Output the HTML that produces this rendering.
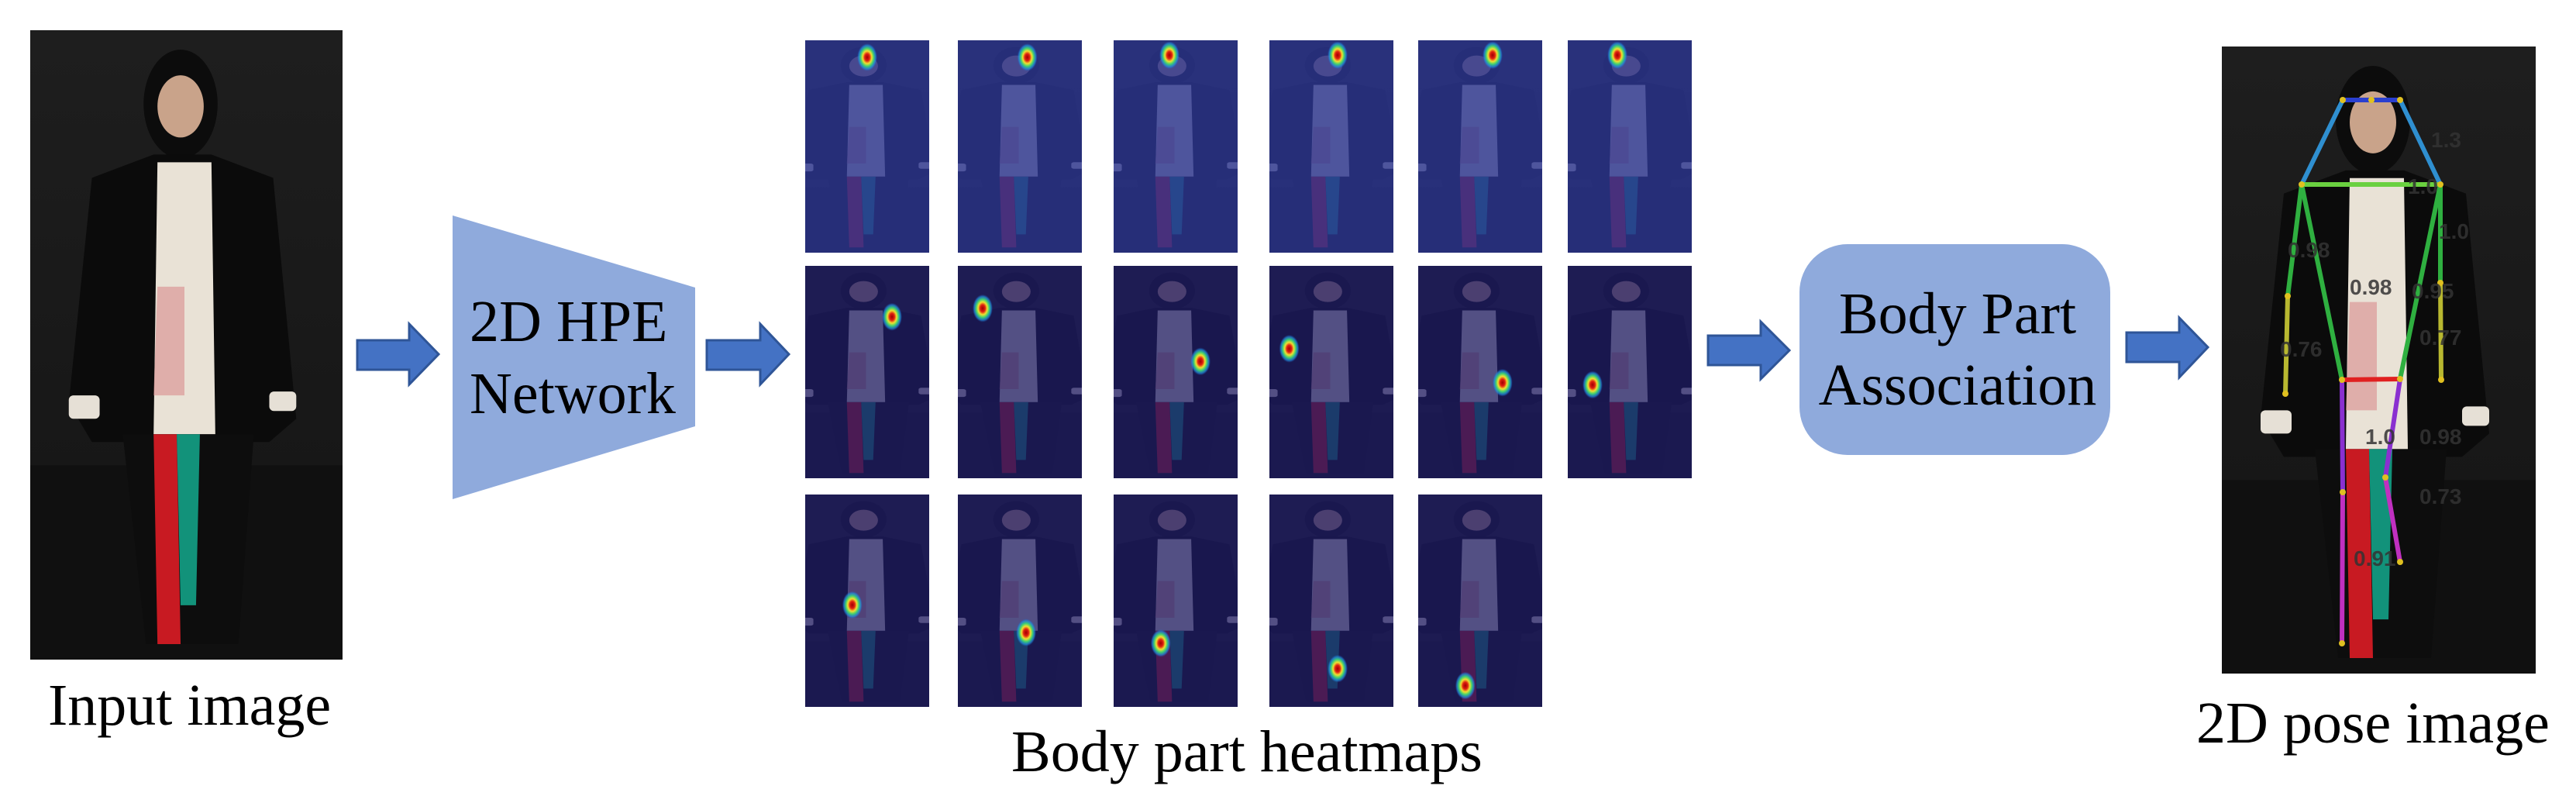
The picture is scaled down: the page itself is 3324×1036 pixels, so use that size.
<!DOCTYPE html>
<html><head><meta charset="utf-8"><style>
html,body{margin:0;padding:0;background:#fff;}
svg{display:block;}
.serif{font-family:"Liberation Serif","Times New Roman",serif;fill:#000;}
</style></head><body>
<svg id="root" width="3324" height="1036" viewBox="0 0 3324 1036" xmlns="http://www.w3.org/2000/svg">
<defs>
  <linearGradient id="bg" x1="0" y1="0" x2="0" y2="1"><stop offset="0" stop-color="#1e1e1e"/><stop offset="1" stop-color="#141414"/></linearGradient>
  <radialGradient id="blob"><stop offset="0" stop-color="#a00000"/><stop offset="0.25" stop-color="#e02010"/><stop offset="0.45" stop-color="#f0e030"/><stop offset="0.65" stop-color="#40d070"/><stop offset="0.85" stop-color="#2090e0" stop-opacity="0.7"/><stop offset="1" stop-color="#2060c0" stop-opacity="0"/></radialGradient>
  <symbol id="person" viewBox="0 0 405 810" preserveAspectRatio="none">
    <rect width="405" height="810" fill="url(#bg)"/>
    <rect x="0" y="560" width="405" height="250" fill="#101010"/>
    <ellipse cx="195" cy="95" rx="48" ry="70" fill="#0c0c0c"/>
    <ellipse cx="195" cy="98" rx="30" ry="40" fill="#c9a38a"/>
    <path d="M80 190 L160 160 L235 160 L315 190 L345 500 L310 530 L80 530 L50 480 Z" fill="#0b0b0b"/>
    <path d="M165 170 L235 170 L240 520 L160 520 Z" fill="#e9e2d6"/>
    <path d="M165 330 L200 330 L200 470 L160 470 Z" fill="#d98c8c" opacity="0.6"/>
    <rect x="50" y="470" width="40" height="30" rx="6" fill="#e6e0d6"/>
    <rect x="310" y="465" width="35" height="25" rx="6" fill="#e6e0d6"/>
    <path d="M120 520 L290 520 L270 790 L150 790 Z" fill="#0d0d0d"/>
    <path d="M160 520 L190 520 L195 790 L165 790 Z" fill="#c81a22"/>
    <path d="M190 520 L220 520 L215 740 L195 740 Z" fill="#12927a"/>
  </symbol>
</defs>

<use href="#person" x="39" y="39" width="403" height="812"/>
<text class="serif" font-family="Liberation Serif, Times New Roman, serif" x="62" y="935" font-size="76">Input image</text>

<path d="M461 439 L528 439 L528 418 L566 457 L528 496 L528 477 L461 477 Z" fill="#4472c4" stroke="#2f5597" stroke-width="3"/>

<path d="M584 278 L897 371 L897 550 L584 644 Z" fill="#8faadc"/>
<text class="serif" font-family="Liberation Serif, Times New Roman, serif" x="606" y="440" font-size="76">2D HPE</text>
<text class="serif" font-family="Liberation Serif, Times New Roman, serif" x="606" y="533" font-size="76">Network</text>

<path d="M912 439 L981 439 L981 418 L1018 457 L981 496 L981 477 L912 477 Z" fill="#4472c4" stroke="#2f5597" stroke-width="3"/>

<g id="heatmaps"></g>
<text class="serif" font-family="Liberation Serif, Times New Roman, serif" x="1305" y="995" font-size="76">Body part heatmaps</text>

<path d="M2204 433 L2272 433 L2272 415 L2309 452 L2272 489 L2272 471 L2204 471 Z" fill="#4472c4" stroke="#2f5597" stroke-width="3"/>

<rect x="2322" y="315" width="401" height="272" rx="62" fill="#8faadc"/>
<text class="serif" font-family="Liberation Serif, Times New Roman, serif" x="2526" y="430" font-size="76" text-anchor="middle">Body Part</text>
<text class="serif" font-family="Liberation Serif, Times New Roman, serif" x="2526" y="522" font-size="76" text-anchor="middle">Association</text>

<path d="M2744 429 L2812 429 L2812 410 L2849 448 L2812 487 L2812 467 L2744 467 Z" fill="#4472c4" stroke="#2f5597" stroke-width="3"/>

<g transform="translate(2867,60)">
  <use href="#person" x="0" y="0" width="405" height="809"/>
  <g id="skeleton"></g>
</g>
<text class="serif" font-family="Liberation Serif, Times New Roman, serif" x="2834" y="958" font-size="76">2D pose image</text>
</svg>
<script>
const heatCols = [1039, 1236, 1437, 1638, 1830, 2023];
const heatRows = [52, 343, 638];
const rowCounts = [6, 6, 5];
const blobX = [[0.5,0.56,0.45,0.55,0.6,0.4],[0.7,0.2,0.7,0.16,0.68,0.2],[0.38,0.55,0.38,0.55,0.38]];
const blobY = [[0.08,0.08,0.07,0.07,0.07,0.07],[0.24,0.2,0.45,0.39,0.55,0.56],[0.52,0.65,0.7,0.82,0.9]];
const NS = "http://www.w3.org/2000/svg";
const hg = document.getElementById('heatmaps');
const TW = 160, TH = 274;
let idx = 0;
for (let r = 0; r < heatRows.length; r++) {
  for (let c = 0; c < rowCounts[r]; c++) {
    const g = document.createElementNS(NS, 'g');
    g.setAttribute('transform', `translate(${heatCols[c]},${heatRows[r]})`);
    
    
    const cp = document.createElementNS(NS, 'clipPath');
    cp.setAttribute('id', 'tc' + idx);
    const rr = document.createElementNS(NS, 'rect');
    rr.setAttribute('width', TW); rr.setAttribute('height', TH);
    cp.appendChild(rr);
    g.appendChild(cp);
    const inner = document.createElementNS(NS, 'g');
    inner.setAttribute('clip-path', `url(#tc${idx})`);
    const u = document.createElementNS(NS, 'use');
    u.setAttribute('href', '#person');
    u.setAttribute('x', -45); u.setAttribute('y', 0);
    u.setAttribute('width', TW + 90); u.setAttribute('height', TH);
    inner.appendChild(u);
    const cl = document.createElementNS(NS, 'rect');
    cl.setAttribute('width', TW); cl.setAttribute('height', TH);
    cl.setAttribute('fill', r === 0 ? '#2c3690' : '#1f1c66');
    cl.setAttribute('opacity', r === 0 ? '0.82' : '0.74');
    inner.appendChild(cl);
    const b = document.createElementNS(NS, 'ellipse');
    b.setAttribute('cx', blobX[r][c] * TW); b.setAttribute('cy', blobY[r][c] * TH);
    b.setAttribute('rx', 13); b.setAttribute('ry', 18);
    b.setAttribute('fill', 'url(#blob)');
    
    
    inner.appendChild(b);
    g.appendChild(inner);
    hg.appendChild(g);
    idx++;
  }
}

const jointNames = ['nose','leye','reye','lsho','rsho','lelb','relb','lwri','rwri','lhip','rhip','lknee','rknee','lank','rank'];
const jointX = [193,156,230,103,282,85,282,82,283,155,230,156,211,155,230];
const jointY = [69,69,69,178,178,322,305,448,430,430,429,575,556,770,665];
const bones = [[1,0,'#2a3fd0'],[2,0,'#2a3fd0'],[1,3,'#2f8fd0'],[2,4,'#2f8fd0'],[3,4,'#6ad040'],[3,5,'#2fb040'],[4,6,'#2fb040'],[3,9,'#2fb040'],[4,10,'#2fb040'],[5,7,'#b8b830'],[6,8,'#b8b830'],[9,10,'#e02020'],[9,11,'#8a30d0'],[10,12,'#8a30d0'],[11,13,'#c030c0'],[12,14,'#c030c0']];
const scoreLabels = ['1.3','1.0','0.98','1.0','0.98','0.95','0.77','0.76','1.0','0.98','0.73','0.91'];
const scoreX = [270,240,85,280,165,245,255,75,185,255,255,170];
const scoreY = [130,190,272,248,320,325,385,400,513,513,590,670];
const sk = document.getElementById('skeleton');
bones.forEach(b => {
  const l = document.createElementNS(NS, 'line');
  l.setAttribute('x1', jointX[b[0]]); l.setAttribute('y1', jointY[b[0]]);
  l.setAttribute('x2', jointX[b[1]]); l.setAttribute('y2', jointY[b[1]]);
  l.setAttribute('stroke', b[2]); l.setAttribute('stroke-width', 6); l.setAttribute('stroke-linecap', 'round');
  
  
  sk.appendChild(l);
});
jointX.forEach((x, i) => {
  const c = document.createElementNS(NS, 'circle');
  c.setAttribute('cx', x); c.setAttribute('cy', jointY[i]); c.setAttribute('r', 4);
  c.setAttribute('fill', '#e0c020');
  
  
  sk.appendChild(c);
});
scoreLabels.forEach((s, i) => {
  const t = document.createElementNS(NS, 'text');
  t.setAttribute('x', scoreX[i]); t.setAttribute('y', scoreY[i]);
  t.setAttribute('font-size', 28);
  t.setAttribute('style', 'font-family:"Liberation Sans",sans-serif;fill:#333;font-weight:bold;opacity:0.85');
  t.textContent = s;
  
  
  sk.appendChild(t);
});
</script>
</body></html>
